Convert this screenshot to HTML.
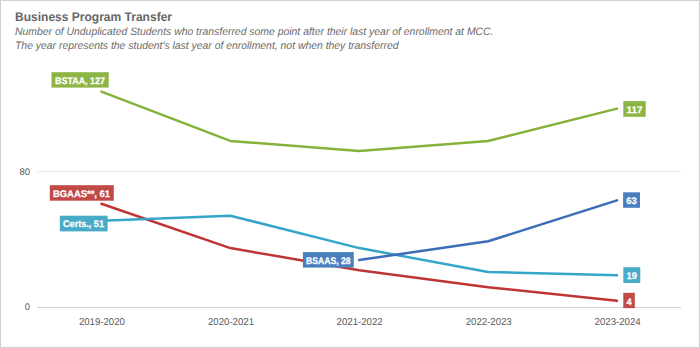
<!DOCTYPE html>
<html><head><meta charset="utf-8">
<style>
html,body{margin:0;padding:0;background:#fff;}
body{width:700px;height:348px;overflow:hidden;position:relative;font-family:"Liberation Sans",sans-serif;}
svg{position:absolute;left:0;top:0;text-rendering:geometricPrecision;}
</style></head>
<body>
<svg width="700" height="348" viewBox="0 0 700 348" font-family="Liberation Sans, sans-serif">
  <rect x="0.5" y="0.5" width="699" height="347" fill="#fff" stroke="#d0d0d0" stroke-width="1"/>
  <!-- title -->
  <text x="15" y="20.5" font-size="12.5" font-weight="bold" fill="#666666" textLength="157" lengthAdjust="spacingAndGlyphs">Business Program Transfer</text>
  <text x="15" y="34.5" font-size="10.8" font-style="italic" fill="#6a6a6a" textLength="478.5" lengthAdjust="spacingAndGlyphs">Number of Unduplicated Students who transferred some point after their last year of enrollment at MCC.</text>
  <text x="15" y="49" font-size="10.8" font-style="italic" fill="#6a6a6a" textLength="383.5" lengthAdjust="spacingAndGlyphs">The year represents the student's last year of enrollment, not when they transferred</text>
  <!-- gridlines -->
  <line x1="37" y1="171.5" x2="681" y2="171.5" stroke="#e8e8e8" stroke-width="1"/>
  <line x1="37" y1="307.5" x2="681" y2="307.5" stroke="#d4d4d4" stroke-width="1"/>
  <text x="30" y="174.5" font-size="9.5" fill="#595959" text-anchor="end">80</text>
  <text x="30" y="310.3" font-size="9.5" fill="#595959" text-anchor="end">0</text>
  <!-- x labels -->
  <g font-size="10" fill="#595959" text-anchor="middle">
    <text x="101.9" y="324.9" textLength="46" lengthAdjust="spacingAndGlyphs">2019-2020</text>
    <text x="231" y="324.9" textLength="46" lengthAdjust="spacingAndGlyphs">2020-2021</text>
    <text x="359.6" y="324.9" textLength="46" lengthAdjust="spacingAndGlyphs">2021-2022</text>
    <text x="488.7" y="324.9" textLength="46" lengthAdjust="spacingAndGlyphs">2022-2023</text>
    <text x="617.6" y="324.9" textLength="46" lengthAdjust="spacingAndGlyphs">2023-2024</text>
  </g>
  <!-- series -->
  <g fill="none" stroke-width="2.5" stroke-linejoin="round" stroke-linecap="round">
    <polyline stroke="#86b13c" points="101.4,91.6 230.3,140.9 359.2,151 488.1,141 617,108.6"/>
    <polyline stroke="#bf3434" points="101.4,203.8 230.3,248.1 359.2,270.2 488.1,287.2 617,300.8"/>
    <polyline stroke="#36a6c8" points="101.4,220.8 230.3,215.7 359.2,248.1 488.1,271.9 617,275.3"/>
    <polyline stroke="#3a6db6" points="359.2,260 488.1,241.3 617,200.4"/>
  </g>
  <!-- labels -->
  <g font-size="9.6" font-weight="bold" fill="#fff" stroke="#fff" stroke-width="0.25">
    <rect x="51.5" y="72.2" width="57.2" height="15.4" fill="#8cb545" stroke="none"/>
    <text x="55" y="84" textLength="50" lengthAdjust="spacingAndGlyphs">BSTAA, 127</text>
    <rect x="49.8" y="185.2" width="64" height="15.5" fill="#c14a48" stroke="none"/>
    <text x="53" y="197" textLength="57" lengthAdjust="spacingAndGlyphs">BGAAS**, 61</text>
    <rect x="59.8" y="215.7" width="47.8" height="15.7" fill="#49abc6" stroke="none"/>
    <text x="63" y="226.7" textLength="41" lengthAdjust="spacingAndGlyphs">Certs., 51</text>
    <rect x="302.9" y="252.1" width="50.9" height="15.5" fill="#4a7fbd" stroke="none"/>
    <text x="306" y="264" textLength="44.5" lengthAdjust="spacingAndGlyphs">BSAAS, 28</text>
    <rect x="623.3" y="101.1" width="22.4" height="15.7" fill="#8cb545" stroke="none"/>
    <text x="626.5" y="113" textLength="16" lengthAdjust="spacingAndGlyphs">117</text>
    <rect x="623.1" y="192.3" width="16.9" height="15.5" fill="#4a7fbd" stroke="none"/>
    <text x="626.3" y="204" textLength="10.5" lengthAdjust="spacingAndGlyphs">63</text>
    <rect x="623.3" y="267.2" width="17" height="15.8" fill="#49abc6" stroke="none"/>
    <text x="626.5" y="279" textLength="10.5" lengthAdjust="spacingAndGlyphs">19</text>
    <rect x="623.3" y="292.8" width="11.5" height="15.3" fill="#c14a48" stroke="none"/>
    <text x="626.5" y="304.5" textLength="5.2" lengthAdjust="spacingAndGlyphs">4</text>
  </g>
</svg>
</body></html>
